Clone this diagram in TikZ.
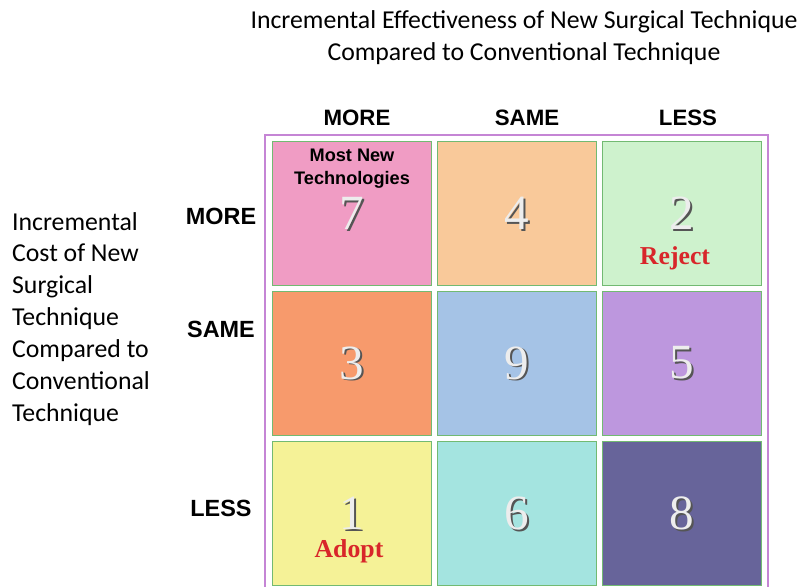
\documentclass[tikz,border=0pt]{standalone}
\usepackage{fontspec}
\setmainfont{Liberation Serif}
\newfontfamily\calfont{Carlito}
\newfontfamily\headfont{Liberation Sans}
\usetikzlibrary{positioning}

\definecolor{frameline}{HTML}{C585D5}
\definecolor{cellline}{HTML}{72BA72}
\definecolor{cPink}{HTML}{F09CC4}
\definecolor{cPeach}{HTML}{F9C99A}
\definecolor{cMint}{HTML}{CEF2CD}
\definecolor{cOrange}{HTML}{F79A6C}
\definecolor{cBlue}{HTML}{A5C3E6}
\definecolor{cLilac}{HTML}{BD97DE}
\definecolor{cYellow}{HTML}{F5F297}
\definecolor{cCyan}{HTML}{A4E4E0}
\definecolor{cIndigo}{HTML}{67649A}
\definecolor{numface}{HTML}{EDEDED}
\definecolor{numshade}{HTML}{555555}
\definecolor{verdict}{HTML}{D8262A}

% digit with a drop shadow
\newcommand\shadenum[1]{%
  \makebox[0pt][l]{\raisebox{-1.6pt}{\hspace{1.6pt}\textcolor{numshade}{#1}}}%
  \textcolor{numface}{#1}}

\begin{document}
\begin{tikzpicture}[
x=0.03cm, y=-0.03cm,
cell/.style={
  draw=cellline,
  line width=0.8pt,
  minimum width=4.77cm,
  minimum height=4.32cm,
  inner sep=0pt},
bignum/.style={
  font=\fontsize{42}{42}\selectfont},
axis/.style={
  font=\headfont\bfseries\fontsize{19}{19}\selectfont},
rowaxis/.style={
  font=\headfont\bfseries\fontsize{20}{20}\selectfont},
verdictlabel/.style={
  text=verdict,
  font=\bfseries\fontsize{22}{22}\selectfont},
caption/.style={
  font=\calfont\fontsize{22}{27.2}\selectfont}
]
\useasboundingbox (0,0) rectangle (810,586);
\clip (0,0) rectangle (810,586);
\fill[white] (0,0) rectangle (810,586);

% outer frame
\draw[frameline, line width=1pt] (265,135) rectangle (768,600);

% the nine cells
\foreach \Name/\X/\Y/\Col/\Num in {
  ma/351.5/213/cPink/7,   sa/516.5/213/cPeach/4,  la/682/213/cMint/2,
  mb/351.5/363/cOrange/3, sb/516.5/363/cBlue/9,   lb/682/363/cLilac/5,
  mc/351.5/513.5/cYellow/1, sc/516.5/513.5/cCyan/6, lc/682/513.5/cIndigo/8}
{
  \node[cell, fill=\Col] (\Name) at (\X,\Y) {};
  \node[bignum] (n\Name) at (\X,\Y+1) {\shadenum{\Num}};
}

\node[verdictlabel] (reject) at (675,258) {Reject};
\node[verdictlabel] (adopt) at (349,551) {Adopt};
\node[font=\headfont\bfseries\fontsize{15.5}{19.5}\selectfont, align=center]
  (mostnew) at (352,169) {Most New\\Technologies};

% column headings
\node[axis] (cmore) at (357,118) {MORE};
\node[axis] (csame) at (527,118) {SAME};
\node[axis] (cless) at (688,118) {LESS};

% row headings
\node[rowaxis] (rmore) at (221,216) {MORE};
\node[rowaxis] (rsame) at (221,329) {SAME};
\node[rowaxis] (rless) at (221,508) {LESS};

% titles
\node[caption, align=center] (effect) at (524,38)
  {Incremental Effectiveness of New Surgical Technique\\
   Compared to Conventional Technique};
\node[caption, align=left, anchor=north west] (cost) at (8,208)
  {Incremental\\Cost of New\\Surgical\\Technique\\
   Compared to\\Conventional\\Technique};
\end{tikzpicture}
\end{document}
